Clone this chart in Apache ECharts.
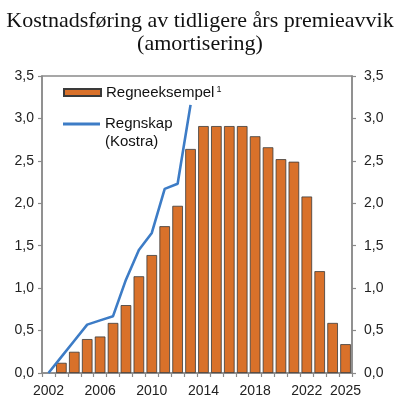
<!DOCTYPE html>
<html>
<head>
<meta charset="utf-8">
<script src="https://cdn.jsdelivr.net/npm/echarts@6/dist/echarts.min.js"></script>
<style>
  html, body { margin: 0; padding: 0; background: #fff; }
  #chart { width: 400px; height: 411px; }
</style>
</head>
<body>
<div id="chart"></div>
<script>
// data
var years = ['2002', '2003', '2004', '2005', '2006', '2007', '2008', '2009', '2010', '2011', '2012', '2013',
  '2014', '2015', '2016', '2017', '2018', '2019', '2020', '2021', '2022', '2023', '2024', '2025'];
// Regneeksempel (bars), no bar for 2002
var regneeksempel = ['-', 0.12, 0.25, 0.40, 0.43, 0.59, 0.80, 1.14, 1.39, 1.73, 1.97, 2.64,
  2.91, 2.91, 2.91, 2.91, 2.79, 2.66, 2.52, 2.49, 2.08, 1.20, 0.59, 0.34];
// Regnskap (Kostra), line ends in 2013
var kostra = [0, 0.19, 0.38, 0.57, 0.62, 0.67, 1.10, 1.45, 1.65, 2.17, 2.23, 3.16];
var yTicks = ['0,0', '0,5', '1,0', '1,5', '2,0', '2,5', '3,0', '3,5'];
var shownYears = ['2002', '2006', '2010', '2014', '2018', '2022', '2025'];

var axisGrey = '#8a8a8a';
var sans = 'Liberation Sans';

var chart = echarts.init(document.getElementById('chart'));

function yAxisDef(pos, margin) {
  return {
    type: 'value',
    position: pos,
    min: 0,
    max: 3.5,
    interval: 0.5,
    axisLine: { show: true, lineStyle: { color: axisGrey, width: 1.5 } },
    axisTick: { show: true, inside: false, length: 4, lineStyle: { color: axisGrey, width: 1.2 } },
    splitLine: { show: false },
    axisLabel: {
      margin: margin,
      color: '#222',
      fontFamily: sans,
      fontSize: 14,
      formatter: function (v) { return yTicks[Math.round(v / 0.5)]; }
    }
  };
}

var option = {
  animation: false,
  backgroundColor: '#fff',
  title: {
    text: 'Kostnadsføring av tidligere års premieavvik\n(amortisering)',
    left: 'center',
    top: 5,
    textStyle: {
      fontFamily: 'Liberation Serif',
      fontSize: 22,
      fontWeight: 'normal',
      color: '#111',
      lineHeight: 23
    }
  },
  legend: [
    {
      data: [{ name: 'Regneeksempel', icon: 'rect' }],
      left: 63,
      top: 85,
      padding: 0,
      itemWidth: 37,
      itemHeight: 7,
      selectedMode: false,
      formatter: '{a|Regneeksempel}{s|1}',
      textStyle: {
        rich: {
          a: { fontFamily: sans, fontSize: 15, color: '#111' },
          s: { fontFamily: sans, fontSize: 9, color: '#111', verticalAlign: 'top', padding: [0, 0, 0, 2] }
        }
      }
    },
    {
      // blank first line so "Regnskap" sits level with the line swatch
      data: [{ name: 'Regnskap (Kostra)', icon: 'rect' }],
      left: 63,
      top: 97,
      padding: 0,
      itemWidth: 37,
      itemHeight: 3,
      selectedMode: false,
      formatter: '\nRegnskap\n(Kostra)',
      textStyle: {
        fontFamily: sans,
        fontSize: 15,
        lineHeight: 18,
        color: '#111'
      }
    }
  ],
  grid: {
    left: 42,
    right: 48,
    top: 76,
    bottom: 38,
    show: true,
    borderColor: axisGrey,
    borderWidth: 1.5
  },
  xAxis: {
    type: 'category',
    data: years,
    boundaryGap: true,
    axisLine: { show: true, lineStyle: { color: axisGrey, width: 1.5 } },
    axisTick: { show: true, interval: 0, length: 4, lineStyle: { color: axisGrey, width: 1.2 } },
    axisLabel: {
      interval: 0,
      margin: 11,
      color: '#222',
      fontFamily: sans,
      fontSize: 14,
      formatter: function (v) { return shownYears.indexOf(v) >= 0 ? v : ''; }
    }
  },
  yAxis: [yAxisDef('left', 8), yAxisDef('right', 12)],
  series: [
    {
      name: 'Regneeksempel',
      type: 'bar',
      data: regneeksempel,
      barCategoryGap: '18%',
      itemStyle: { color: '#d9712a', borderColor: '#3a3a3a', borderWidth: 0.8 }
    },
    {
      name: 'Regnskap (Kostra)',
      type: 'line',
      data: kostra,
      symbol: 'none',
      lineStyle: { color: '#3d7cc6', width: 2.6 },
      itemStyle: { color: '#3d7cc6' }
    }
  ]
};

chart.setOption(option);
</script>
</body>
</html>
